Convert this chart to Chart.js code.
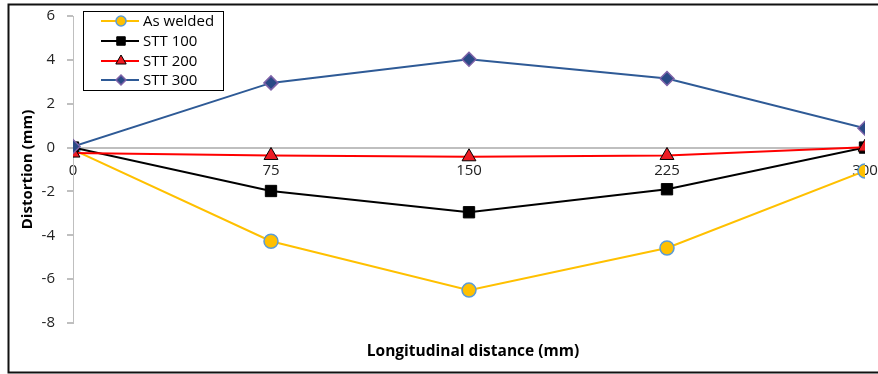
<!DOCTYPE html>
<html>
<head>
<meta charset="utf-8">
<script src="https://cdn.jsdelivr.net/npm/chart.js@4/dist/chart.umd.min.js"></script>
<style>
  html, body { margin: 0; padding: 0; background: #fff; }
  #wrap { width: 878px; height: 374px; position: relative; }
</style>
</head>
<body>
<div id="wrap"><canvas id="chart" width="878" height="374"></canvas></div>
<script>
// data
const distances = [0, 75, 150, 225, 300];
const asWelded = [-0.1, -4.27, -6.5, -4.58, -1.07];
const stt100 = [0, -1.98, -2.95, -1.9, 0];
const stt200 = [-0.25, -0.36, -0.42, -0.36, 0.02];
const stt300 = [0.05, 2.95, 4.03, 3.15, 0.88];
const seriesNames = ['As welded', 'STT 100', 'STT 200', 'STT 300'];
const yTicks = [6, 4, 2, 0, -2, -4, -6, -8];

const FONT = "'Open Sans', 'Liberation Sans', sans-serif";
const GRAY = '#BFBFBF';

function toXY(vals) {
    return distances.map((d, i) => ({ x: d, y: vals[i] }));
}

// frame, legend box and x title
const extras = {
    id: 'extras',
    beforeDraw(chart) {
        const c = chart.ctx;
        c.save();
        c.fillStyle = '#fff';
        c.fillRect(0, 0, chart.width, chart.height);
        c.restore();
    },
    afterDraw(chart) {
        const c = chart.ctx;
        c.save();
        // outer frame
        c.strokeStyle = '#111';
        c.lineWidth = 2;
        c.beginPath();
        c.moveTo(chart.width + 5, 4.5);
        c.lineTo(8.5, 4.5);
        c.lineTo(8.5, 372.5);
        c.lineTo(chart.width + 5, 372.5);
        c.stroke();

        // x axis title
        c.fillStyle = '#000';
        c.font = "bold 15.5px " + FONT;
        c.textAlign = 'center';
        c.textBaseline = 'middle';
        c.fillText('Longitudinal distance (mm)', 473, 352);

        // legend
        const bx = 83.5, by = 11.5, bw = 140, bh = 79;
        c.fillStyle = '#fff';
        c.fillRect(bx, by, bw, bh);
        c.strokeStyle = '#000';
        c.lineWidth = 1;
        c.strokeRect(bx, by, bw, bh);
        const rows = [21, 41, 61, 80];
        chart.data.datasets.forEach((ds, i) => {
            const y = rows[i];
            c.strokeStyle = ds.borderColor;
            c.lineWidth = 2;
            c.beginPath();
            c.moveTo(101, y);
            c.lineTo(139, y);
            c.stroke();
            c.fillStyle = ds.pointBackgroundColor;
            c.strokeStyle = ds.pointBorderColor;
            c.lineWidth = ds.pointBorderWidth;
            Chart.helpers.drawPoint(c, {
                pointStyle: ds.pointStyle,
                rotation: 0,
                borderWidth: ds.pointBorderWidth,
                radius: ds.legendRadius
            }, 121, y);
            c.fillStyle = '#000';
            c.font = "15px " + FONT;
            c.textAlign = 'left';
            c.fillText(ds.label, 143, y + 1);
        });
        c.restore();
    }
};

new Chart(document.getElementById('chart'), {
    type: 'line',
    data: {
        datasets: [
            {
                label: seriesNames[0],
                data: toXY(asWelded),
                borderColor: '#FFC000',
                borderWidth: 2,
                pointStyle: 'circle',
                pointRadius: 7,
                legendRadius: 5,
                pointBackgroundColor: '#FFC000',
                pointBorderColor: '#5B9BD5',
                pointBorderWidth: 1.5,
                order: 3
            },
            {
                label: seriesNames[1],
                data: toXY(stt100),
                borderColor: '#000000',
                borderWidth: 2,
                pointStyle: 'rect',
                pointRadius: 8,
                legendRadius: 6,
                pointBackgroundColor: '#000000',
                pointBorderColor: '#000000',
                pointBorderWidth: 1,
                order: 2
            },
            {
                label: seriesNames[2],
                data: toXY(stt200),
                borderColor: '#FF0000',
                borderWidth: 2,
                pointStyle: 'triangle',
                pointRadius: 8,
                legendRadius: 6,
                pointBackgroundColor: '#EE1C24',
                pointBorderColor: '#000000',
                pointBorderWidth: 1,
                order: 1
            },
            {
                label: seriesNames[3],
                data: toXY(stt300),
                borderColor: '#2E5A96',
                borderWidth: 2,
                pointStyle: 'rectRot',
                pointRadius: 7,
                legendRadius: 5,
                pointBackgroundColor: '#2A4A86',
                pointBorderColor: '#7E62A8',
                pointBorderWidth: 1.5,
                order: 0
            }
        ]
    },
    options: {
        responsive: false,
        animation: false,
        devicePixelRatio: 1,
        layout: { padding: { left: 0, right: 13, top: 16, bottom: 51 } },
        plugins: {
            legend: { display: false },
            tooltip: { enabled: false }
        },
        scales: {
            x: {
                type: 'linear',
                position: { y: 0 },
                min: 0,
                max: 300,
                z: 1,
                afterBuildTicks: (scale) => { scale.ticks = distances.map(v => ({ value: v })); },
                afterFit: (scale) => { scale.paddingLeft = 0; scale.paddingRight = 0; },
                grid: { display: false },
                border: { display: false },
                ticks: {
                    color: '#222',
                    font: { family: FONT, size: 15 },
                    padding: 6,
                    maxRotation: 0
                }
            },
            y: {
                min: -8,
                max: 6,
                afterBuildTicks: (scale) => { scale.ticks = yTicks.map(v => ({ value: v })); },
                afterFit: (scale) => {
                    scale.width = 73;
                    scale.paddingTop = 0;
                    scale.paddingBottom = 0;
                },
                grid: {
                    color: (ctx) => (ctx.tick && ctx.tick.value === 0 ? GRAY : 'transparent'),
                    tickColor: GRAY,
                    tickLength: 6,
                    lineWidth: 2
                },
                border: { color: GRAY, width: 1 },
                ticks: {
                    color: '#222',
                    font: { family: FONT, size: 15 },
                    padding: 12
                },
                title: {
                    display: true,
                    text: 'Distortion (mm)',
                    color: '#000',
                    font: { family: FONT, size: 15, weight: 'bold' },
                    padding: { top: 19, bottom: 0 }
                }
            }
        }
    },
    plugins: [extras]
});
</script>
</body>
</html>
